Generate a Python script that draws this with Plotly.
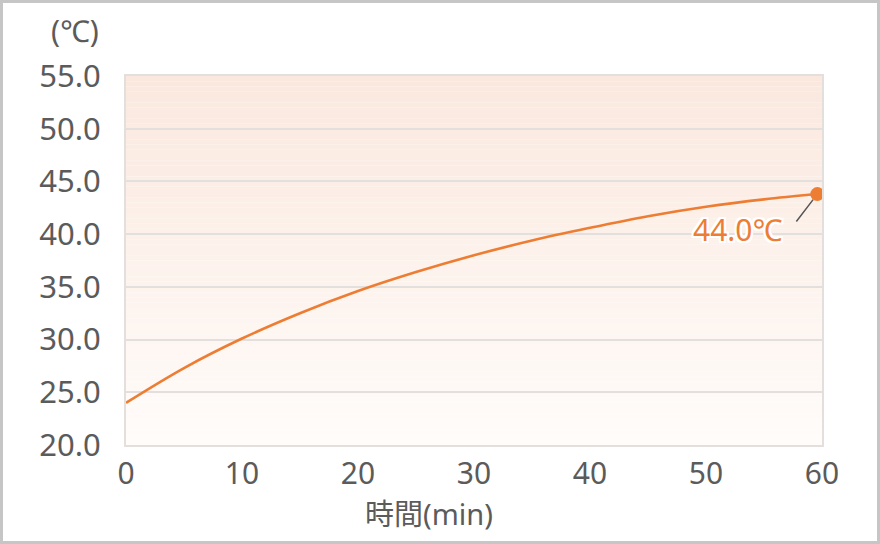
import plotly.graph_objects as go

# ---- data ----
time_min = [0, 5, 10, 15, 20, 25, 30, 35, 40, 45, 50, 55, 59.6]
temp_c = [24.0, 27.3, 30.1, 32.5, 34.6, 36.4, 38.0, 39.4, 40.6, 41.7, 42.6, 43.3, 43.8]
x_ticks = [0, 10, 20, 30, 40, 50, 60]
y_ticks = [20, 25, 30, 35, 40, 45, 50, 55]
y_tick_labels = ["20.0", "25.0", "30.0", "35.0", "40.0", "45.0", "50.0", "55.0"]
end_label = "44.0℃"
x_title = "時間(min)"
y_unit = "(℃)"

W, H = 880, 544
ML, MR, MT, MB = 126, 58, 76, 99
PW, PH = W - ML - MR, H - MT - MB

FONT = "Noto Sans, Noto Sans CJK JP, sans-serif"
GRAY = "#5b5b5b"
ORANGE = "#ee7d34"
GRID = "#e3dfdc"

fig = go.Figure()

fig.add_trace(go.Scatter(
    x=time_min, y=temp_c, mode="lines",
    line=dict(color=ORANGE, width=2.6, shape="spline"),
    hoverinfo="skip", showlegend=False,
))
fig.add_trace(go.Scatter(
    x=[time_min[-1]], y=[temp_c[-1]], mode="markers",
    marker=dict(color=ORANGE, size=14),
    hoverinfo="skip", showlegend=False,
))

# background vertical gradient (top peach -> bottom near white)
top = (250, 232, 222)
bot = (255, 252, 250)
ymin, ymax = y_ticks[0], y_ticks[-1]
n = 70
shapes = []
for i in range(n):
    t = (i + 0.5) / n
    c = tuple(round(bot[k] + (top[k] - bot[k]) * t) for k in range(3))
    shapes.append(dict(
        type="rect", xref="x", yref="y", layer="below",
        x0=x_ticks[0], x1=x_ticks[-1],
        y0=ymin + (ymax - ymin) * i / n, y1=ymin + (ymax - ymin) * (i + 1) / n,
        fillcolor="rgb(%d,%d,%d)" % c, line=dict(width=0),
    ))
# outer figure border
shapes.append(dict(
    type="rect", xref="paper", yref="paper", layer="above",
    x0=(-ML + 1.5) / PW, x1=1 + (MR - 1.5) / PW,
    y0=(-MB + 1.5) / PH, y1=1 + (MT - 1.5) / PH,
    line=dict(color="#c6c6c6", width=3), fillcolor="rgba(0,0,0,0)",
))

shadow = ", ".join("%dpx %dpx 0 #fff" % (dx, dy) for dx in (-2, 0, 2) for dy in (-2, 0, 2) if dx or dy)

annotations = [
    # leader line
    dict(x=time_min[-1], y=temp_c[-1], xref="x", yref="y", text=" ",
         showarrow=True, arrowhead=0, arrowwidth=1.5, arrowcolor="#555555",
         ax=-23, ay=30, standoff=7, font=dict(size=2)),
    # value label
    dict(x=time_min[-1], y=temp_c[-1], xref="x", yref="y", text=end_label,
         showarrow=False, xanchor="center", yanchor="middle", xshift=-79, yshift=-35,
         font=dict(family=FONT, size=30, color=ORANGE, shadow=shadow)),
    # y unit
    dict(x=(101 - ML) / PW, y=1 + (MT - 31) / PH, xref="paper", yref="paper",
         text=y_unit, showarrow=False, xanchor="right", yanchor="middle",
         font=dict(family=FONT, size=30, color=GRAY)),
    # x title
    dict(x=(429 - ML) / PW, y=-(513 - MT - PH) / PH, xref="paper", yref="paper",
         text=x_title, showarrow=False, xanchor="center", yanchor="middle",
         font=dict(family=FONT, size=29, color=GRAY)),
]

fig.update_layout(
    width=W, height=H,
    margin=dict(l=ML, r=MR, t=MT, b=MB, pad=0),
    paper_bgcolor="white", plot_bgcolor="white",
    shapes=shapes, annotations=annotations,
    showlegend=False,
    xaxis=dict(
        range=[x_ticks[0], x_ticks[-1]], tickvals=x_ticks,
        ticktext=[str(v) for v in x_ticks],
        showgrid=False, zeroline=False,
        showline=True, mirror=True, linecolor=GRID, linewidth=2,
        ticks="", ticklabelstandoff=1,
        tickfont=dict(family=FONT, size=30, color=GRAY),
    ),
    yaxis=dict(
        range=[ymin, ymax], tickvals=y_ticks, ticktext=y_tick_labels,
        showgrid=True, gridcolor=GRID, gridwidth=2, zeroline=False,
        showline=True, mirror=True, linecolor=GRID, linewidth=2,
        ticks="", ticklabelstandoff=17,
        tickfont=dict(family=FONT, size=31, color=GRAY),
    ),
)

fig.write_html("out.html", config={"displayModeBar": False},
               post_script="document.body.style.margin='0';")
